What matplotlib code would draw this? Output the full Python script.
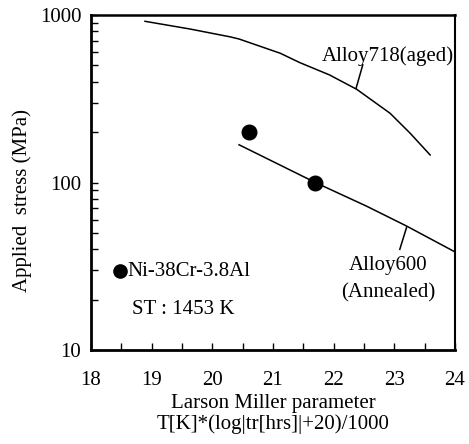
import numpy as np
import matplotlib
matplotlib.use("Agg")
import matplotlib.pyplot as plt
from matplotlib.ticker import LogLocator, MultipleLocator, NullFormatter

plt.rcParams['font.family'] = ['Liberation Serif', 'DejaVu Serif']

# curves
lmp_718 = [18.89, 19.63, 20.29, 20.44, 21.12, 21.44, 21.93, 22.38, 22.93, 23.26, 23.59]
stress_718 = [917, 825, 741, 719, 591, 520, 439, 360, 259, 197, 146]

lmp_600 = [20.44, 21.71, 22.54, 23.20, 24.0]
stress_600 = [168, 99.5, 72.3, 55, 38.5]

# Ni-38Cr-3.8Al data points
lmp_ni = [20.6, 21.7]
stress_ni = [200, 100]

fig = plt.figure(figsize=(4.69, 4.44), dpi=100)
ax = fig.add_axes([91/469, 1 - 350/444, (455-91)/469, (350-15)/444])

ax.plot(lmp_718, stress_718, color='black', lw=1.1)
ax.plot(lmp_600, stress_600, color='black', lw=1.1)
ax.plot(lmp_ni, stress_ni, 'o', color='black', ms=10.5)

# legend-like marker and notes
ax.plot([18.48], [29.6], 'o', color='black', ms=9.5)
ax.text(18.6, 29.6, "Ni-38Cr-3.8Al", fontsize=15, va='center', ha='left')
ax.text(18.67, 17.5, "ST : 1453 K", fontsize=15, va='center', ha='left')

# curve labels with leader lines
ax.text(22.9, 565, "Alloy718(aged)", fontsize=15, ha='center', va='center')
ax.plot([22.48, 22.37], [504, 366], color='black', lw=1.1)
ax.text(22.9, 32, "Alloy600", fontsize=15, ha='center', va='center')
ax.text(22.9, 22, "(Annealed)", fontsize=15, ha='center', va='center')
ax.plot([23.20, 23.09], [53.7, 39.9], color='black', lw=1.1)

ax.set_yscale('log')
ax.set_xlim(18, 24)
ax.set_ylim(10, 1000)
ax.xaxis.set_major_locator(MultipleLocator(1))
ax.xaxis.set_minor_locator(MultipleLocator(0.5))
ax.yaxis.set_minor_locator(LogLocator(base=10, subs=np.arange(2, 10)))
ax.yaxis.set_minor_formatter(NullFormatter())
ax.set_yticks([10, 100, 1000])
ax.set_yticklabels(["10", "100", "1000"])

ax.tick_params(axis='both', which='both', direction='in', top=False, right=False,
               labelsize=15, length=5, width=1)
ax.tick_params(axis='x', pad=15)
ax.tick_params(axis='y', pad=7)

ax.spines['left'].set_linewidth(2)
ax.spines['bottom'].set_linewidth(2)
ax.spines['top'].set_linewidth(1.8)
ax.spines['right'].set_linewidth(1.5)

ax.set_xlabel("Larson Miller parameter\nT[K]*(log|tr[hrs]|+20)/1000", fontsize=15,
              labelpad=3, linespacing=1.08)
# y label sits a bit below the axes centre in the original
fig.text(22/469, 1 - 200/444, "Applied  stress (MPa)", fontsize=15,
         rotation=90, ha='center', va='center')

fig.savefig("out.png", dpi=100)
